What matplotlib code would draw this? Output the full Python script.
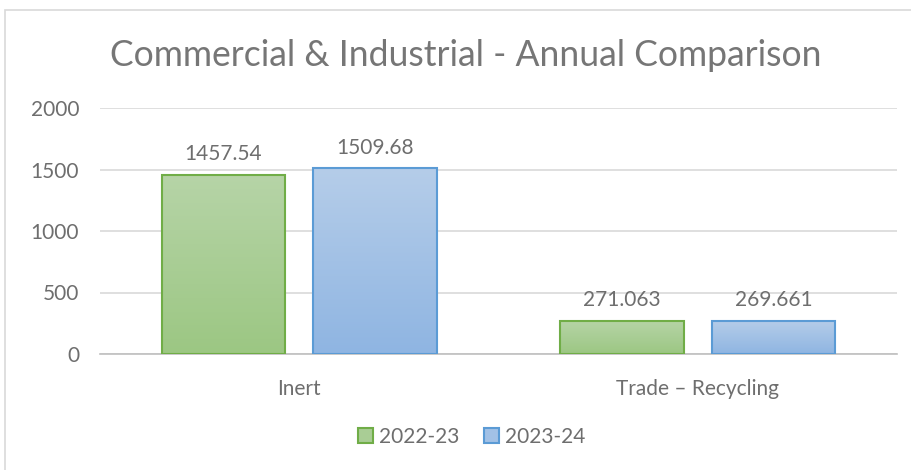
import numpy as np
import matplotlib.pyplot as plt
from matplotlib.patches import Rectangle
from matplotlib.colors import LinearSegmentedColormap

# data
categories = ['Inert', 'Trade – Recycling']
years = ['2022-23', '2023-24']
vals_2223 = [1457.54, 271.063]
vals_2324 = [1509.68, 269.661]
labels_2223 = ['1457.54', '271.063']
labels_2324 = ['1509.68', '269.661']
yticks = [0, 500, 1000, 1500, 2000]

plt.rcParams['font.family'] = ['Lato', 'DejaVu Sans']
txt = '#6e6e6e'

fig = plt.figure(figsize=(9.12, 4.7), dpi=100)
fig.patches.append(Rectangle((5/912, -0.1), 1.1, 1 - 10/470 + 0.1, transform=fig.transFigure,
                             fill=False, edgecolor='#d9d9d9', lw=1.2))
ax = fig.add_axes([100/912, 1 - 354/470, 797/912, 246/470])

x = np.arange(len(categories))
w = 0.31
off = 0.19
styles = [
    (vals_2223, labels_2223, -off, '#b6d4a7', '#9cc783', '#70ad47'),
    (vals_2324, labels_2324, off, '#b5cde9', '#8fb5e2', '#5b9bd5'),
]
for vals, labs, o, top, bot, edge in styles:
    cmap = LinearSegmentedColormap.from_list('g', [bot, top])
    grad = np.linspace(0, 1, 100).reshape(-1, 1)
    bars = ax.bar(x + o, vals, w, facecolor='none', edgecolor=edge, lw=1.5, zorder=3)
    for b, lab in zip(bars, labs):
        ax.imshow(grad, cmap=cmap, origin='lower', aspect='auto', zorder=2,
                  extent=[b.get_x(), b.get_x() + b.get_width(), 0, b.get_height()])
        ax.text(b.get_x() + b.get_width()/2, b.get_height() + 85, lab,
                ha='center', va='bottom', fontsize=15, color=txt)

ax.set_xlim(-0.5, 1.5)
ax.set_ylim(0, 2000)
ax.set_yticks(yticks)
ax.set_yticklabels([str(t) for t in yticks])
ax.set_xticks(x)
ax.set_xticklabels(categories)
ax.tick_params(axis='both', length=0, labelsize=15, labelcolor=txt)
ax.tick_params(axis='x', pad=18)
ax.tick_params(axis='y', pad=15)
ax.grid(axis='y', color='#d9d9d9', lw=1.2, zorder=0)
ax.set_axisbelow(True)
for s in ['top', 'right', 'left']:
    ax.spines[s].set_visible(False)
ax.spines['bottom'].set_color('#bfbfbf')
ax.spines['bottom'].set_linewidth(1.2)

fig.text(466/912, 1 - 56/470, 'Commercial & Industrial - Annual Comparison',
         ha='center', va='center', fontsize=25.6, color='#767676')

handles = [Rectangle((0, 0), 1, 1, facecolor='#a9cd95', edgecolor='#70ad47', lw=1.5),
           Rectangle((0, 0), 1, 1, facecolor='#a2c1e6', edgecolor='#5b9bd5', lw=1.5)]
fig.legend(handles, years, loc='center', bbox_to_anchor=(472/912, 1 - 437/470), ncol=2,
           frameon=False, fontsize=15, labelcolor=txt, handlelength=0.7,
           handleheight=0.7, handletextpad=0.3, columnspacing=1.2)

fig.savefig('out.png', dpi=100)
